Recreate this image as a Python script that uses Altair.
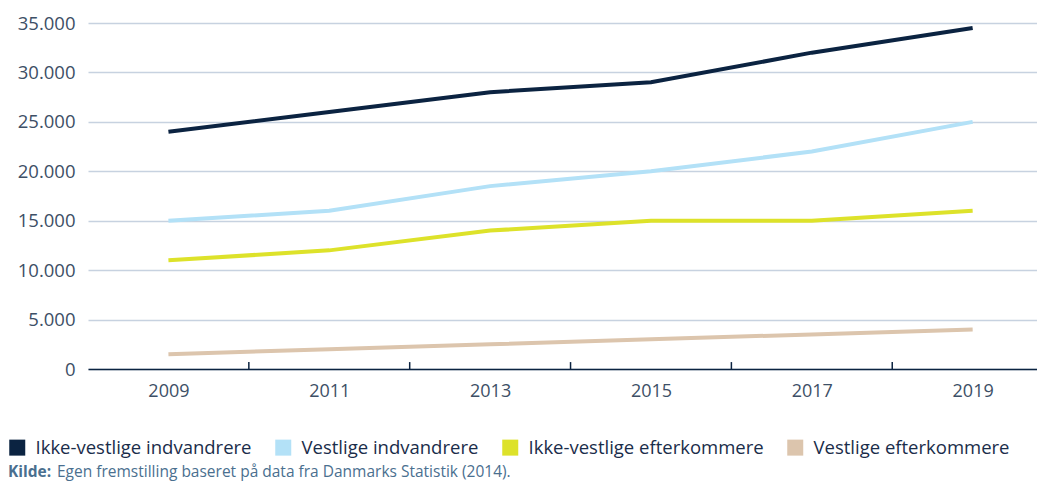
import altair as alt
import pandas as pd

years = [2009, 2011, 2013, 2015, 2017, 2019]
series_names = [
    "Ikke-vestlige indvandrere",
    "Vestlige indvandrere",
    "Ikke-vestlige efterkommere",
    "Vestlige efterkommere",
]
ikke_vestlige_indvandrere = [24000, 26000, 28000, 29000, 32000, 34500]
vestlige_indvandrere = [15000, 16000, 18500, 20000, 22000, 25000]
ikke_vestlige_efterkommere = [11000, 12000, 14000, 15000, 15000, 16000]
vestlige_efterkommere = [1500, 2000, 2500, 3000, 3500, 4000]
colors = ["#0b2341", "#b3e1f7", "#dde22a", "#dcc5ad"]
tick_years = [2010, 2012, 2014, 2016, 2018]
y_ticks = [0, 5000, 10000, 15000, 20000, 25000, 30000, 35000]

rows = []
for name, vals in zip(series_names, [ikke_vestlige_indvandrere, vestlige_indvandrere,
                                     ikke_vestlige_efterkommere, vestlige_efterkommere]):
    for yr, v in zip(years, vals):
        rows.append({"serie": name, "år": yr, "antal": v})
df = pd.DataFrame(rows)

FONT = "Open Sans"
W, H = 949, 346

x_scale = alt.Scale(domain=[2008, 2019.8], nice=False, zero=False)
y_scale = alt.Scale(domain=[0, 35000], nice=False)

lines = alt.Chart(df).mark_line(strokeWidth=4, strokeCap="butt").encode(
    x=alt.X("år:Q", scale=x_scale,
            axis=alt.Axis(values=years, format="d", title=None, ticks=False,
                          grid=False, domainColor="#0b2341", domainWidth=1.5,
                          labelFontSize=18, labelColor="#3d4f66", labelPadding=13,
                          labelFont=FONT)),
    y=alt.Y("antal:Q", scale=y_scale,
            axis=alt.Axis(values=y_ticks, title=None, ticks=False, domain=False,
                          labelExpr="replace(format(datum.value, ',d'), ',', '.')",
                          gridColor="#c7d2e0", gridWidth=1.5,
                          labelFontSize=18.5, labelColor="#3d4f66", labelPadding=13,
                          labelFont=FONT)),
    color=alt.Color("serie:N", sort=series_names,
                    scale=alt.Scale(domain=series_names, range=colors),
                    legend=alt.Legend(title=None, orient="none", direction="horizontal",
                                      legendX=-80, legendY=415, symbolType="square",
                                      symbolSize=64, symbolStrokeWidth=8,
                                      symbolOpacity=1,
                                      labelFontSize=18.5, labelColor="#1a2d4a",
                                      labelFont=FONT, labelOffset=9,
                                      columnPadding=11, labelLimit=400)),
)

ticks_df = pd.DataFrame({"år": tick_years})
tick_marks = alt.Chart(ticks_df).mark_rule(color="#0b2341", strokeWidth=1.5).encode(
    x="år:Q",
    y=alt.datum(0),
    y2=alt.datum(700),
)

source_df = pd.DataFrame({"t": ["Kilde:"], "s": ["Egen fremstilling baseret på data fra Danmarks Statistik (2014)."]})
kilde = alt.Chart(source_df).mark_text(
    align="left", baseline="alphabetic", fontSize=15.5, fontWeight="bold",
    color="#4a6f8f", font=FONT
).encode(text="t:N", x=alt.value(-80), y=alt.value(454))
source = alt.Chart(source_df).mark_text(
    align="left", baseline="alphabetic", fontSize=15.5, color="#4a6f8f", font=FONT
).encode(text="s:N", x=alt.value(-31), y=alt.value(454))

chart = alt.layer(lines, tick_marks, kilde, source).properties(
    width=W, height=H,
    autosize=alt.AutoSizeParams(type="none"),
    padding={"left": 80, "top": 15, "right": 0, "bottom": 114},
).configure_view(stroke=None)

chart.save("out.html", embed_options={"renderer": "svg", "actions": False})
